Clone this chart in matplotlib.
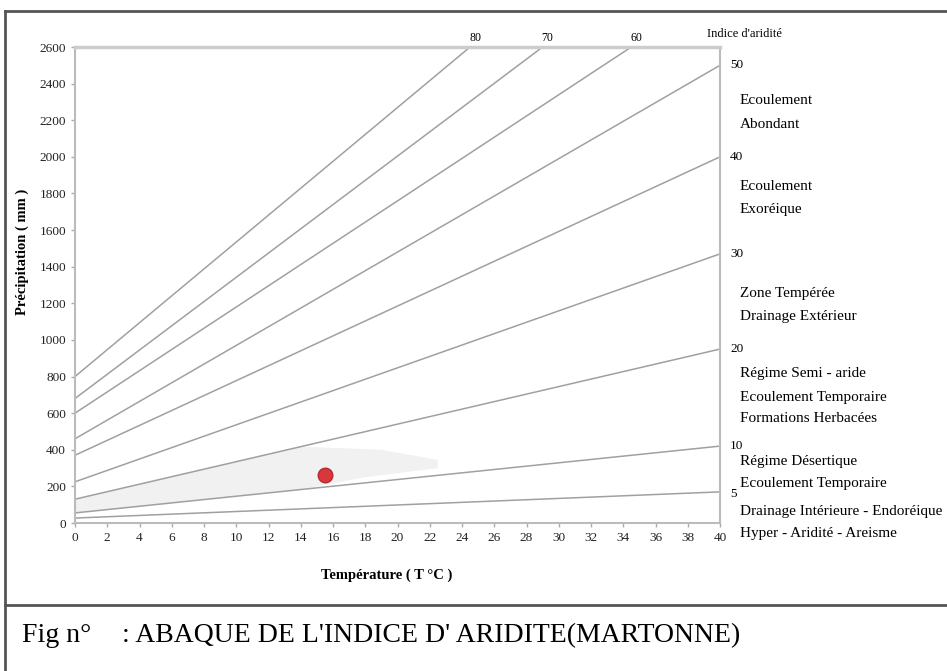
import matplotlib
matplotlib.use("Agg")
import matplotlib.pyplot as plt
from matplotlib.lines import Line2D

plt.rcParams['font.family'] = ['Liberation Serif', 'DejaVu Serif']

# droites d'indice d'aridite (debut a T=0, fin a T=40 ou au bord haut)
indices = [80, 70, 60, 50, 40, 30, 20, 10, 5]
t_debut = [0, 0, 0, 0, 0, 0, 0, 0, 0]
p_debut = [800, 680, 600, 460, 370, 225, 130, 55, 27]
t_fin = [24.5, 29.0, 34.5, 40, 40, 40, 40, 40, 40]
p_fin = [2600, 2600, 2600, 2500, 2000, 1470, 950, 420, 170]

# station etudiee
station_t = [15.5]
station_p = [260]

# zone grisee entre les droites 20 et 10
zone_t = [0, 14, 19, 22.5, 22.5, 18, 14, 0]
zone_p = [130, 417, 400, 345, 300, 250, 183, 55]

x_ticks = list(range(0, 41, 2))
y_ticks = list(range(0, 2601, 200))

zones = [
    ("Ecoulement", 101), ("Abondant", 124),
    ("Ecoulement", 187), ("Exoréique", 210),
    ("Zone Tempérée", 294), ("Drainage Extérieur", 317),
    ("Régime Semi - aride", 374), ("Ecoulement Temporaire", 397),
    ("Formations Herbacées", 418),
    ("Régime Désertique", 461), ("Ecoulement Temporaire", 483),
    ("Drainage Intérieure - Endoréique", 511),
    ("Hyper - Aridité - Areisme", 534),
]

W, H = 947, 671
fig = plt.figure(figsize=(W / 100, H / 100), dpi=100)
ax = fig.add_axes([75 / W, 1 - 523 / H, 645 / W, 476 / H])


def px(x, y):
    return x / W, 1 - y / H


ax.fill(zone_t, zone_p, color='#f1f1f1', lw=0, zorder=0)

for i in range(len(indices)):
    ax.plot([t_debut[i], t_fin[i]], [p_debut[i], p_fin[i]],
            color='#a0a0a0', lw=1.1, zorder=1, clip_on=False)
    if p_fin[i] >= 2600:
        ax.annotate(str(indices[i]), (t_fin[i], p_fin[i]),
                    xytext=(5, 9), textcoords='offset pixels',
                    ha='center', va='center', fontsize=8.5)
    else:
        ax.annotate(str(indices[i]), (t_fin[i], p_fin[i]),
                    xytext=(10, -2 if indices[i] == 5 else 0),
                    textcoords='offset pixels',
                    ha='left', va='center', fontsize=9.5)

ax.scatter(station_t, station_p, s=110, color='#d8383a',
           edgecolor='#b52a2f', linewidth=1, zorder=3)

ax.set_xlim(0, 40)
ax.set_ylim(0, 2600)
ax.set_xticks(x_ticks)
ax.set_yticks(y_ticks)
ax.tick_params(axis='both', colors='#aaaaaa', length=3, width=1,
               labelcolor='#222222', labelsize=9.5)
for s in ax.spines.values():
    s.set_color('#bbbbbb')
    s.set_linewidth(1.5)
ax.spines['top'].set_linewidth(2.5)
ax.spines['top'].set_color('#cccccc')

ax.set_xlabel("Température ( T °C )", fontsize=10.5, fontweight='bold')
ax.set_ylabel("Précipitation ( mm )", fontsize=10.5, fontweight='bold')
ax.xaxis.set_label_coords(0.484, -0.095)
ax.yaxis.set_label_coords(-0.071, 0.569)

fig.text(*px(707, 34), "Indice d'aridité", fontsize=9, va='center')
for txt, y in zones:
    fig.text(*px(740, y), txt, fontsize=11, va='center')

# cadre et legende de la figure
fig.add_artist(Line2D([5 / W, 1], [1 - 11 / H] * 2, color='#555555', lw=2))
fig.add_artist(Line2D([5 / W] * 2, [0, 1 - 11 / H], color='#555555', lw=2))
fig.add_artist(Line2D([5 / W, 1], [1 - 605 / H] * 2, color='#555555', lw=2))
fig.text(*px(22, 636), "Fig n°", fontsize=20, va='center')
fig.text(*px(122, 636), ": ABAQUE DE L'INDICE D' ARIDITE(MARTONNE)",
         fontsize=20, va='center')

fig.savefig("out.png", dpi=100)
